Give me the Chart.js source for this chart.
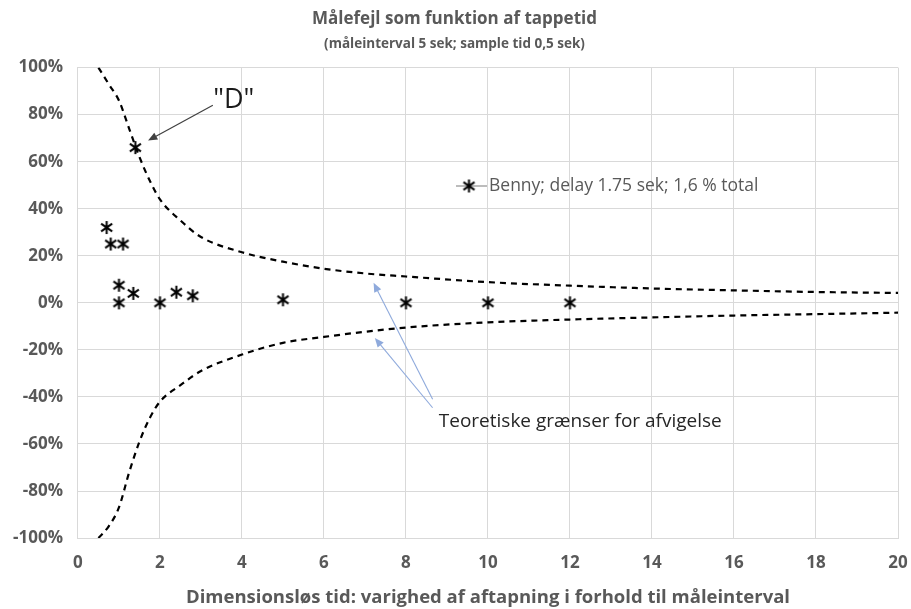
<!DOCTYPE html>
<html>
<head>
<meta charset="utf-8">
<script src="https://cdn.jsdelivr.net/npm/chart.js@4.4.1/dist/chart.umd.min.js"></script>
<style>
  html, body { margin: 0; padding: 0; background: #fff; }
  #wrap { width: 911px; height: 609px; }
</style>
</head>
<body>
<div id="wrap"><canvas id="chart" width="911" height="609"></canvas></div>
<script>
// measured points (Benny)
const bennyX = [0.7, 0.8, 1.1, 1.0, 1.0, 1.35, 1.4, 2.0, 2.4, 2.8, 5.0, 8.0, 10.0, 12.0];
const bennyY = [0.32, 0.25, 0.25, 0.075, 0.0, 0.04, 0.66, 0.0, 0.045, 0.03, 0.013, 0.0, 0.0, 0.0];

// theoretical limits
const limitX     = [0.5, 0.75, 1.0, 1.25, 1.5, 1.75, 2.0, 2.5, 3.0, 4.0, 5.0, 6.0, 7.0, 8.0, 10.0, 12.0, 14.0, 16.0, 18.0, 20.0];
const upperLimit = [1.0, 0.93, 0.86, 0.74, 0.62, 0.52, 0.44, 0.35, 0.28, 0.215, 0.175, 0.145, 0.125, 0.112, 0.088, 0.073, 0.061, 0.053, 0.046, 0.042];
const lowerLimit = [-1.0, -0.95, -0.87, -0.72, -0.59, -0.49, -0.42, -0.35, -0.29, -0.22, -0.17, -0.145, -0.123, -0.105, -0.083, -0.071, -0.062, -0.054, -0.048, -0.042];

const titleText = "Målefejl som funktion af tappetid";
const subtitleText = "(måleinterval 5 sek; sample tid 0,5 sek)";
const xAxisTitle = "Dimensionsløs tid: varighed af aftapning i forhold til måleinterval";
const legendText = "Benny; delay 1.75 sek; 1,6 % total";
const noteD = '"D"';
const noteLimits = "Teoretiske grænser for afvigelse";

const FONT = "'Open Sans', 'Liberation Sans', sans-serif";
const GREY = "#595959";

const toPoints = (xs, ys) => xs.map((x, i) => ({ x: x, y: ys[i] }));

// asterisk marker like Excel's "*" (vertical bar + X)
const makeStar = (size) => {
    const c = document.createElement("canvas");
    c.width = size; c.height = size;
    const g = c.getContext("2d");
    const m = size / 2, r = size / 2 - 1;
    g.strokeStyle = "#000";
    g.lineWidth = 2;
    g.beginPath();
    g.moveTo(m, m - r); g.lineTo(m, m + r);
    g.moveTo(m - r * 0.85, m - r * 0.6); g.lineTo(m + r * 0.85, m + r * 0.6);
    g.moveTo(m + r * 0.85, m - r * 0.6); g.lineTo(m - r * 0.85, m + r * 0.6);
    g.stroke();
    return c;
};
const star = makeStar(15);

// draw an arrow with a filled head
const arrow = (ctx, x1, y1, x2, y2, color, width, head) => {
    const a = Math.atan2(y2 - y1, x2 - x1);
    ctx.save();
    ctx.strokeStyle = color;
    ctx.fillStyle = color;
    ctx.lineWidth = width;
    ctx.beginPath();
    ctx.moveTo(x1, y1);
    ctx.lineTo(x2 - Math.cos(a) * head * 0.8, y2 - Math.sin(a) * head * 0.8);
    ctx.stroke();
    ctx.beginPath();
    ctx.moveTo(x2, y2);
    ctx.lineTo(x2 - head * Math.cos(a - 0.4), y2 - head * Math.sin(a - 0.4));
    ctx.lineTo(x2 - head * Math.cos(a + 0.4), y2 - head * Math.sin(a + 0.4));
    ctx.closePath();
    ctx.fill();
    ctx.restore();
};

// notes and arrows, placed in data units
const annotations = {
    id: "annotations",
    afterDatasetsDraw(chart) {
        const ctx = chart.ctx;
        const xs = chart.scales.x, ys = chart.scales.y;
        const px = (v) => xs.getPixelForValue(v);
        const py = (v) => ys.getPixelForValue(v);

        ctx.save();
        ctx.fillStyle = "#1a1a1a";
        ctx.font = "27px " + FONT;
        ctx.textAlign = "center";
        ctx.textBaseline = "middle";
        ctx.fillText(noteD, px(3.8), py(0.862));
        arrow(ctx, px(3.29), py(0.84), px(1.71), py(0.69), "#404040", 1.2, 10);

        arrow(ctx, px(8.65), py(-0.41), px(7.21), py(0.085), "#8faadc", 1.1, 10);
        arrow(ctx, px(8.65), py(-0.446), px(7.24), py(-0.149), "#8faadc", 1.1, 10);
        ctx.fillStyle = "#262626";
        ctx.font = "19px " + FONT;
        ctx.textAlign = "left";
        ctx.fillText(noteLimits, px(8.8), py(-0.505));

        // legend inside the plot
        const lx = 456, ly = 186;
        ctx.strokeStyle = "#a6a6a6";
        ctx.lineWidth = 1.5;
        ctx.beginPath();
        ctx.moveTo(lx, ly); ctx.lineTo(lx + 31, ly);
        ctx.stroke();
        ctx.drawImage(star, lx + 13 - 7.5, ly - 7.5);
        ctx.fillStyle = GREY;
        ctx.font = "17.5px " + FONT;
        ctx.fillText(legendText, lx + 33, ly);
        ctx.restore();
    }
};

new Chart(document.getElementById("chart"), {
    type: "scatter",
    data: {
        datasets: [
            {
                label: legendText,
                data: toPoints(bennyX, bennyY),
                pointStyle: star,
                pointRadius: 7.5,
                showLine: false
            },
            {
                label: "upper",
                data: toPoints(limitX, upperLimit),
                showLine: true,
                borderColor: "#000",
                borderWidth: 2.2,
                borderDash: [6, 5],
                pointRadius: 0,
                cubicInterpolationMode: "monotone"
            },
            {
                label: "lower",
                data: toPoints(limitX, lowerLimit),
                showLine: true,
                borderColor: "#000",
                borderWidth: 2.2,
                borderDash: [6, 5],
                pointRadius: 0,
                cubicInterpolationMode: "monotone"
            }
        ]
    },
    options: {
        responsive: false,
        animation: false,
        layout: { padding: { left: -2, right: 0, top: 9, bottom: 2 } },
        plugins: {
            legend: { display: false },
            tooltip: { enabled: false },
            title: {
                display: true,
                text: titleText,
                color: GREY,
                font: { family: FONT, size: 17, weight: "bold" },
                padding: { top: 0, bottom: 7 }
            },
            subtitle: {
                display: true,
                text: subtitleText,
                color: GREY,
                font: { family: FONT, size: 13.5, weight: "bold" },
                padding: { top: 0, bottom: 15 }
            }
        },
        scales: {
            x: {
                type: "linear",
                min: 0,
                max: 20,
                afterFit: (scale) => { scale.paddingRight = 13; },
                ticks: {
                    stepSize: 2,
                    color: GREY,
                    font: { family: FONT, size: 17, weight: "bold", lineHeight: 1.32 },
                    padding: 14
                },
                grid: { color: "#d9d9d9", drawTicks: false },
                border: { color: "#d9d9d9" },
                title: {
                    display: true,
                    text: xAxisTitle,
                    color: GREY,
                    font: { family: FONT, size: 18.5, weight: "bold", lineHeight: 1 },
                    padding: { top: 0, bottom: 0 }
                }
            },
            y: {
                min: -1,
                max: 1,
                ticks: {
                    stepSize: 0.2,
                    color: GREY,
                    font: { family: FONT, size: 17, weight: "bold" },
                    padding: 15,
                    callback: (v) => Math.round(v * 100) + "%"
                },
                grid: { color: "#d9d9d9", drawTicks: false },
                border: { color: "#d9d9d9" }
            }
        }
    },
    plugins: [annotations]
});
</script>
</body>
</html>
